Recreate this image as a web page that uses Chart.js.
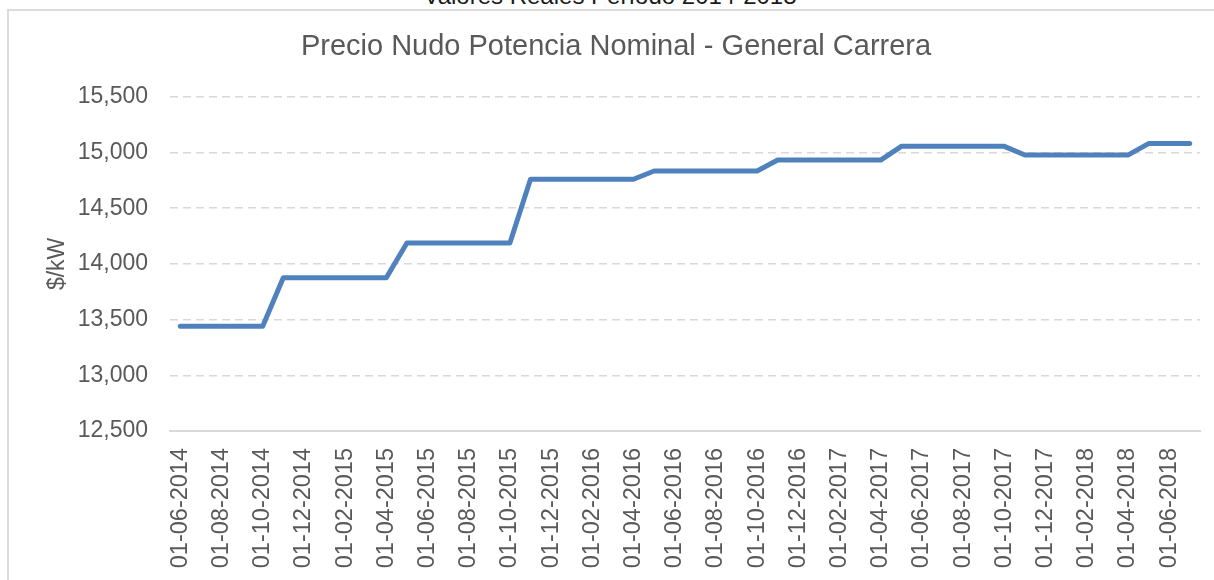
<!DOCTYPE html>
<html>
<head>
<meta charset="utf-8">
<title>Precio Nudo Potencia Nominal - General Carrera</title>
<script src="https://cdn.jsdelivr.net/npm/chart.js@4.4.1/dist/chart.umd.min.js"></script>
<style>
  html, body { margin: 0; padding: 0; background: #fff; overflow: hidden; width: 1214px; height: 580px; }
  #marco { position: absolute; left: 7px; top: 9px; width: 1300px; height: 700px;
           border-left: 2px solid #dcdcdc; border-top: 2px solid #dcdcdc; }
  #subtitulo { position: absolute; left: 0; top: -16px; width: 1220px; text-align: center;
               font: 24px/23px "Liberation Sans", Arial, sans-serif; color: #1a1a1a; white-space: nowrap; }
  #grafico { position: absolute; left: 0; top: 0; }
</style>
</head>
<body>
<div id="subtitulo">Valores Reales Período 2014-2018</div>
<div id="marco"></div>
<canvas id="grafico" width="1232" height="580"></canvas>

<script>
// Fechas mensuales (se rotula una de cada dos)
const fechas = [
    '01-06-2014', '01-07-2014', '01-08-2014', '01-09-2014', '01-10-2014', '01-11-2014',
    '01-12-2014', '01-01-2015', '01-02-2015', '01-03-2015', '01-04-2015', '01-05-2015',
    '01-06-2015', '01-07-2015', '01-08-2015', '01-09-2015', '01-10-2015', '01-11-2015',
    '01-12-2015', '01-01-2016', '01-02-2016', '01-03-2016', '01-04-2016', '01-05-2016',
    '01-06-2016', '01-07-2016', '01-08-2016', '01-09-2016', '01-10-2016', '01-11-2016',
    '01-12-2016', '01-01-2017', '01-02-2017', '01-03-2017', '01-04-2017', '01-05-2017',
    '01-06-2017', '01-07-2017', '01-08-2017', '01-09-2017', '01-10-2017', '01-11-2017',
    '01-12-2017', '01-01-2018', '01-02-2018', '01-03-2018', '01-04-2018', '01-05-2018',
    '01-06-2018', '01-07-2018'
];

// Precio nudo potencia ($/kW)
const precioNudo = [
    13440, 13440, 13440, 13440, 13440,
    13875, 13875, 13875, 13875, 13875, 13875,
    14188, 14188, 14188, 14188, 14188, 14188,
    14760, 14760, 14760, 14760, 14760, 14760,
    14834, 14834, 14834, 14834, 14834, 14834,
    14932, 14932, 14932, 14932, 14932, 14932,
    15055, 15055, 15055, 15055, 15055, 15055,
    14977, 14977, 14977, 14977, 14977, 14977,
    15080, 15080, 15080
];

const yMin = 12500;
const yMax = 15500;
const yPaso = 500;

const FUENTE = '"Liberation Sans", Arial, sans-serif';
const GRIS_TEXTO = '#595959';
const GRIS_LINEA = '#d9d9d9';

// Formato con separador de miles
function miles(v) {
    return String(v).replace(/\B(?=(\d{3})+(?!\d))/g, ',');
}

const ctx = document.getElementById('grafico').getContext('2d');

new Chart(ctx, {
    type: 'line',
    data: {
        labels: fechas,
        datasets: [{
            label: 'Precio Nudo Potencia',
            data: precioNudo,
            borderColor: '#4f81bd',
            backgroundColor: 'transparent',
            borderWidth: 5,
            borderCapStyle: 'round',
            borderJoinStyle: 'round',
            tension: 0,
            pointRadius: 0,
            fill: false
        }]
    },
    options: {
        responsive: false,
        animation: false,
        // padding simétrico para centrar el título sobre el marco
        layout: { padding: { left: 32, right: 32, top: 0, bottom: 0 } },
        plugins: {
            legend: { display: false },
            tooltip: { enabled: false },
            title: {
                display: true,
                text: 'Precio Nudo Potencia Nominal - General Carrera',
                color: GRIS_TEXTO,
                font: { family: FUENTE, size: 29, weight: 'normal' },
                padding: { top: 30, bottom: 32 }
            }
        },
        scales: {
            x: {
                offset: true,
                grid: { display: false },
                border: { display: true, color: GRIS_LINEA, width: 2 },
                ticks: {
                    autoSkip: false,
                    minRotation: 90,
                    maxRotation: 90,
                    padding: 9,
                    color: GRIS_TEXTO,
                    font: { family: FUENTE, size: 23.5 },
                    callback: function (v, i) {
                        return i % 2 === 0 ? this.getLabelForValue(v) : '';
                    }
                },
                afterFit: s => { s.height = 149; }
            },
            y: {
                min: yMin,
                max: yMax,
                grid: { color: GRIS_LINEA, lineWidth: 1.5, drawTicks: false },
                border: { display: false, dash: [8, 5] },
                ticks: {
                    stepSize: yPaso,
                    padding: 22,
                    color: GRIS_TEXTO,
                    font: { family: FUENTE, size: 23 },
                    callback: v => miles(v)
                },
                title: {
                    display: true,
                    text: '$/kW',
                    color: GRIS_TEXTO,
                    font: { family: FUENTE, size: 23 },
                    padding: { top: 12, bottom: 0 }
                },
                afterFit: s => { s.width = 138; }
            }
        }
    }
});
</script>
</body>
</html>
